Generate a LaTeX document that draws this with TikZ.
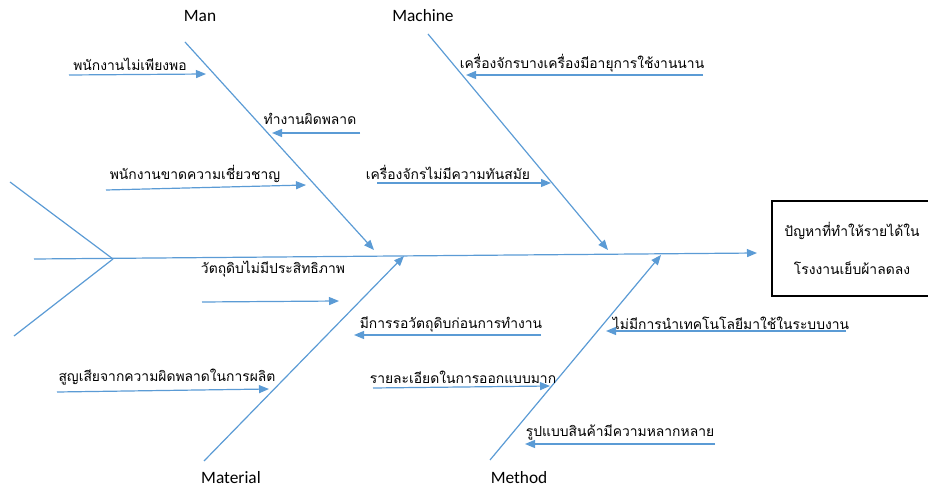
\documentclass[tikz,border=0pt]{standalone}
\usepackage{fontspec}
\setmainfont{Carlito}
\newfontfamily\thaifont[Script=Thai]{Loma}
\usetikzlibrary{arrows.meta}
\definecolor{bonecolor}{RGB}{91,155,213}
\tikzset{
  bone/.style={draw=bonecolor, line width=0.9pt},
  cause/.style={bone, -{Triangle[length=7.5pt,width=6pt]}},
  thaitext/.style={font=\thaifont\fontsize{10.4}{13}\selectfont, inner sep=0.75pt},
  catlabel/.style={font=\fontsize{13}{15}\selectfont, inner sep=0.75pt},
}

\begin{document}
\begin{tikzpicture}[x=0.75pt,y=0.75pt,yscale=-1,xscale=1]
\useasboundingbox (0,0) rectangle (928,491);

%Spine and tail
\coordinate (tailtip) at (113,259);
\coordinate (spineL) at (34,259);
\coordinate (spineR) at (757,253);
\coordinate (tailU) at (10,182);
\coordinate (tailD) at (14,336);
\draw [cause] (spineL) -- (spineR);
\draw [bone] (tailU) -- (tailtip);
\draw [bone] (tailD) -- (tailtip);

% Problem box
\node (problem) [draw=black, line width=1.3pt, minimum width=120pt, minimum height=71pt, align=center,
  font=\thaifont\fontsize{10.4}{29}\selectfont] at (852,248.5)
  {ปัญหาที่ทำให้รายได้ใน\\โรงงานเย็บผ้าลดลง};

%Main bones
\coordinate (manS) at (185,42);  \coordinate (manE) at (374,250);
\coordinate (macS) at (428,34);  \coordinate (macE) at (608,250);
\coordinate (matS) at (204,461); \coordinate (matE) at (404,256);
\coordinate (metS) at (490,460); \coordinate (metE) at (661,255);
\draw [cause] (manS) -- (manE);
\draw [cause] (macS) -- (macE);
\draw [cause] (matS) -- (matE);
\draw [cause] (metS) -- (metE);

% Category labels
\node (man) [catlabel] at (200,16) {Man};
\node (machine) [catlabel] at (423,16) {Machine};
\node (material) [catlabel] at (231,478) {Material};
\node (method) [catlabel] at (519,478) {Method};

%Man causes
\coordinate (m1S) at (69,75);   \coordinate (m1E) at (206,74);
\coordinate (m2S) at (360,133); \coordinate (m2E) at (272,133);
\coordinate (m3S) at (106,190); \coordinate (m3E) at (306,185);
\draw [cause] (m1S) -- (m1E);
\draw [cause] (m2S) -- (m2E);
\draw [cause] (m3S) -- (m3E);
\node (m1) [thaitext] at (130,64) {พนักงานไม่เพียงพอ};
\node (m2) [thaitext] at (310,119) {ทำงานผิดพลาด};
\node (m3) [thaitext] at (195,174) {พนักงานขาดความเชี่ยวชาญ};

%Machine causes
\coordinate (c1S) at (703,75);  \coordinate (c1E) at (466,75);
\coordinate (c2S) at (377,183); \coordinate (c2E) at (551,183);
\draw [cause] (c1S) -- (c1E);
\draw [cause] (c2S) -- (c2E);
\node (c1) [thaitext] at (582,63) {เครื่องจักรบางเครื่องมีอายุการใช้งานนาน};
\node (c2) [thaitext] at (448,172) {เครื่องจักรไม่มีความทันสมัย};

%Material causes
\coordinate (t1S) at (202,302); \coordinate (t1E) at (339,301);
\coordinate (t2S) at (57,392);  \coordinate (t2E) at (269,389);
\draw [cause] (t1S) -- (t1E);
\draw [cause] (t2S) -- (t2E);
\node (t1) [thaitext] at (273,269) {วัตถุดิบไม่มีประสิทธิภาพ};
\node (t2) [thaitext] at (167,377) {สูญเสียจากความผิดพลาดในการผลิต};

%Method causes
\coordinate (d1S) at (541,335); \coordinate (d1E) at (354,335);
\coordinate (d2S) at (373,388); \coordinate (d2E) at (550,386);
\coordinate (d3S) at (846,331); \coordinate (d3E) at (606,331);
\coordinate (d4S) at (715,444); \coordinate (d4E) at (525,444);
\draw [cause] (d1S) -- (d1E);
\draw [cause] (d2S) -- (d2E);
\draw [cause] (d3S) -- (d3E);
\draw [cause] (d4S) -- (d4E);
\node (d1) [thaitext] at (451,324) {มีการรอวัตถุดิบก่อนการทำงาน};
\node (d2) [thaitext] at (463,377) {รายละเอียดในการออกแบบมาก};
\node (d3) [thaitext] at (731,323) {ไม่มีการนำเทคโนโลยีมาใช้ในระบบงาน};
\node (d4) [thaitext] at (620,432) {รูปแบบสินค้ามีความหลากหลาย};

\end{tikzpicture}
\end{document}
